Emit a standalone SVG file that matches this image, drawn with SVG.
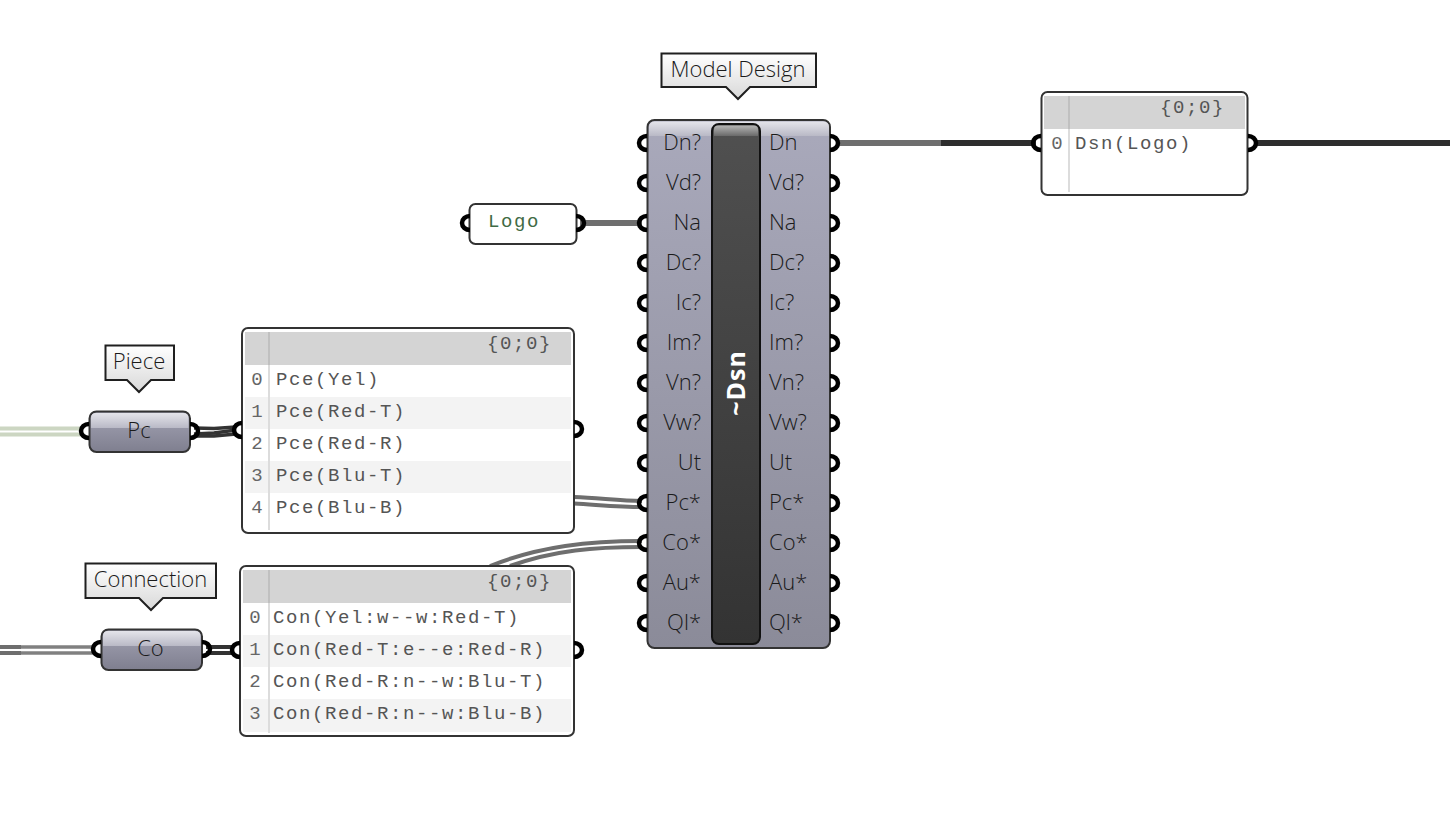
<svg xmlns="http://www.w3.org/2000/svg" xmlns:xlink="http://www.w3.org/1999/xlink" width="1450" height="831" viewBox="0 0 1450 831">
<style>
text{font-family:"Open Sans","Noto Sans",sans-serif;fill:#1a1a1a;font-weight:300}
.lb{font-size:22px}
.end{text-anchor:end}
.mid{text-anchor:middle}
.mono{font-family:"Liberation Mono","DejaVu Sans Mono",monospace;font-size:19px;letter-spacing:1.6px;fill:#555;font-weight:400}
.idx{font-family:"Liberation Mono","DejaVu Sans Mono",monospace;font-size:19px;fill:#666;text-anchor:middle;font-weight:400}
.box{stroke:#333;stroke-width:2}
.port{fill:none;stroke:#000;stroke-width:4.500}
.w{fill:none;stroke:#6e6e6e;stroke-width:4}
.w6{fill:none;stroke-width:6}
.tip{fill:url(#tipg);stroke:#1f1f1f;stroke-width:2}
.hdr{fill:#d4d4d4}
.alt{fill:#f3f3f3}
.vl{stroke:#dcdcdc;stroke-width:2}
.vh{stroke:#c0c0c0;stroke-width:2}
</style>
<defs>
<linearGradient id="tipg" x1="0" y1="0" x2="0" y2="1"><stop offset="0" stop-color="#fff"/><stop offset="1" stop-color="#d8d8d8"/></linearGradient>
<linearGradient id="body" x1="0" y1="0" x2="0" y2="1"><stop offset="0" stop-color="#a9a9bb"/><stop offset="1" stop-color="#8b8b99"/></linearGradient>
<linearGradient id="band" x1="0" y1="0" x2="0" y2="1"><stop offset="0" stop-color="#e4e4ea"/><stop offset="1" stop-color="#b9b9c6"/></linearGradient>
<linearGradient id="small" x1="0" y1="0" x2="0" y2="1"><stop offset="0" stop-color="#a3a3b4"/><stop offset="1" stop-color="#7f7f8f"/></linearGradient>
<linearGradient id="bar" x1="0" y1="0" x2="0" y2="1"><stop offset="0" stop-color="#505050"/><stop offset="1" stop-color="#333"/></linearGradient>
<linearGradient id="barh" x1="0" y1="0" x2="0" y2="1"><stop offset="0" stop-color="#b5b5b5"/><stop offset="1" stop-color="#6a6a6a"/></linearGradient>
<path id="pl" class="port" d="M1,-7 A8,7 0 0 0 1,7"/>
<path id="pr" class="port" d="M-1,-7 A8,7 0 0 1 -1,7"/>
</defs>
<rect width="1450" height="831" fill="#fff"/>

<g id="connectors">
<path class="w6" stroke="#6e6e6e" d="M836,143H941"/>
<path class="w6" stroke="#2e2e2e" d="M941,143H1036"/>
<path class="w6" stroke="#2e2e2e" d="M1254,143H1450"/>
<path class="w6" stroke="#6e6e6e" d="M580,223H642"/>
<path fill="none" stroke="#ccd6c2" stroke-width="4" d="M0,428.500H82"/>
<path fill="none" stroke="#ccd6c2" stroke-width="4" d="M0,434.500H82"/>
<path fill="none" stroke="#333" stroke-width="3.500" d="M194,428L214,428.500L236,427"/>
<path fill="none" stroke="#333" stroke-width="3.500" d="M194,434L214,433L236,430"/>
<path fill="none" stroke="#333" stroke-width="3.500" d="M194,436L214,436L236,434"/>
<path class="w" d="M0,647H21"/>
<path class="w" d="M0,653H21"/>
<path fill="none" stroke="#808080" stroke-width="3.500" d="M21,647H94"/>
<path fill="none" stroke="#808080" stroke-width="3.500" d="M21,653H94"/>
<path fill="none" stroke="#333" stroke-width="4" d="M206,647H234"/>
<path fill="none" stroke="#333" stroke-width="4" d="M206,653H234"/>
<path class="w" d="M574,497C600,498 620,501 642,501"/>
<path class="w" d="M574,503.500C600,505 620,507 642,507"/>
<path class="w" d="M490,566C540,546 590,541 642,541"/>
<path class="w" d="M510,566C555,550 595,547 642,547"/>
</g>

<g id="model-design-tip">
<path class="tip" d="M661.500,53.500H816V87H750L738,99L726,87H661.500Z"/>
<text class="mid lb" x="738" y="77">Model Design</text>
</g>
<g id="piece-tip">
<path class="tip" d="M105.500,345.500H174V380H151L139,392L127,380H105.500Z"/>
<text class="mid lb" x="139" y="369">Piece</text>
</g>
<g id="connection-tip">
<path class="tip" d="M85.500,563.500H216V598H163L151,610L139,598H85.500Z"/>
<text class="mid lb" x="150.500" y="587">Connection</text>
</g>

<g id="dsn">
<rect class="box" x="647.500" y="120" width="182.500" height="528" rx="7" fill="url(#body)"/>
<path d="M649,136V127Q649,121.500 655,121.500H823Q829,121.500 829,127V136Z" fill="url(#band)"/>
<rect x="712" y="124" width="48" height="520" rx="7" fill="url(#bar)" stroke="#111" stroke-width="2"/>
<path d="M714,136V129Q714,125.500 718,125.500H754Q758,125.500 758,129V136Z" fill="url(#barh)"/>
<text transform="translate(745,383) rotate(-90)" class="mid" font-size="25" letter-spacing="1" style="fill:#fff;font-weight:700">~Dsn</text>
<g class="lb end">
<text x="701" y="150">Dn?</text><text x="701" y="190">Vd?</text><text x="701" y="230">Na</text><text x="701" y="270">Dc?</text><text x="701" y="310">Ic?</text><text x="701" y="350">Im?</text><text x="701" y="390">Vn?</text><text x="701" y="430">Vw?</text><text x="701" y="470">Ut</text><text x="701" y="510">Pc*</text><text x="701" y="550">Co*</text><text x="701" y="590">Au*</text><text x="701" y="630">Ql*</text>
</g>
<g class="lb">
<text x="769" y="150">Dn</text><text x="769" y="190">Vd?</text><text x="769" y="230">Na</text><text x="769" y="270">Dc?</text><text x="769" y="310">Ic?</text><text x="769" y="350">Im?</text><text x="769" y="390">Vn?</text><text x="769" y="430">Vw?</text><text x="769" y="470">Ut</text><text x="769" y="510">Pc*</text><text x="769" y="550">Co*</text><text x="769" y="590">Au*</text><text x="769" y="630">Ql*</text>
</g>
<use href="#pl" x="646" y="143"/><use href="#pl" x="646" y="183"/><use href="#pl" x="646" y="223"/><use href="#pl" x="646" y="263"/><use href="#pl" x="646" y="303"/><use href="#pl" x="646" y="343"/><use href="#pl" x="646" y="383"/><use href="#pl" x="646" y="423"/><use href="#pl" x="646" y="463"/><use href="#pl" x="646" y="503"/><use href="#pl" x="646" y="543"/><use href="#pl" x="646" y="583"/><use href="#pl" x="646" y="623"/>
<use href="#pr" x="831" y="143"/><use href="#pr" x="831" y="183"/><use href="#pr" x="831" y="223"/><use href="#pr" x="831" y="263"/><use href="#pr" x="831" y="303"/><use href="#pr" x="831" y="343"/><use href="#pr" x="831" y="383"/><use href="#pr" x="831" y="423"/><use href="#pr" x="831" y="463"/><use href="#pr" x="831" y="503"/><use href="#pr" x="831" y="543"/><use href="#pr" x="831" y="583"/><use href="#pr" x="831" y="623"/>
</g>

<g id="logo">
<rect class="box" x="469.500" y="204" width="107" height="40" rx="6" fill="#fff"/>
<text class="mono" x="488" y="227" style="fill:#3f6b45">Logo</text>
<use href="#pl" x="469" y="223"/><use href="#pr" x="577" y="223"/>
</g>

<g id="pc">
<rect class="box" x="89.500" y="411.500" width="100.500" height="40.500" rx="7" fill="url(#small)"/>
<path d="M91,428V418Q91,413 96,413H183Q188.500,413 188.500,418V428Z" fill="url(#band)"/>
<text class="mid lb" x="139" y="438">Pc</text>
<use href="#pl" x="88" y="431"/><use href="#pr" x="191" y="431"/>
</g>

<g id="co">
<rect class="box" x="101.500" y="629.500" width="100.500" height="40.500" rx="7" fill="url(#small)"/>
<path d="M103,646V636Q103,631 108,631H195Q200.500,631 200.500,636V646Z" fill="url(#band)"/>
<text class="mid lb" x="150.500" y="656">Co</text>
<use href="#pl" x="100" y="649"/><use href="#pr" x="203" y="649"/>
</g>

<g id="panel-pce">
<rect class="box" x="242" y="328" width="332" height="205" rx="6" fill="#fff"/>
<rect class="hdr" x="245" y="332" width="326" height="33"/>
<rect class="alt" x="245" y="397" width="326" height="32"/>
<rect class="alt" x="245" y="461" width="326" height="32"/>
<path class="vh" d="M269,332V365"/><path class="vl" d="M269,365V530"/>
<text class="mono" x="487" y="349">{0;0}</text>
<text class="idx" x="257" y="385">0</text><text class="mono" x="276" y="385">Pce(Yel)</text>
<text class="idx" x="257" y="417">1</text><text class="mono" x="276" y="417">Pce(Red-T)</text>
<text class="idx" x="257" y="449">2</text><text class="mono" x="276" y="449">Pce(Red-R)</text>
<text class="idx" x="257" y="481">3</text><text class="mono" x="276" y="481">Pce(Blu-T)</text>
<text class="idx" x="257" y="513">4</text><text class="mono" x="276" y="513">Pce(Blu-B)</text>
<use href="#pl" x="241" y="430"/><use href="#pr" x="575" y="429"/>
</g>

<g id="panel-con">
<rect class="box" x="240" y="566" width="334" height="170" rx="6" fill="#fff"/>
<rect class="hdr" x="243" y="570" width="328" height="33"/>
<rect class="alt" x="243" y="635" width="328" height="32"/>
<rect class="alt" x="243" y="699" width="328" height="33"/>
<path class="vh" d="M269,570V603"/><path class="vl" d="M269,603V733"/>
<text class="mono" x="487" y="587">{0;0}</text>
<text class="idx" x="255" y="623">0</text><text class="mono" x="273" y="623">Con(Yel:w--w:Red-T)</text>
<text class="idx" x="255" y="655">1</text><text class="mono" x="273" y="655">Con(Red-T:e--e:Red-R)</text>
<text class="idx" x="255" y="687">2</text><text class="mono" x="273" y="687">Con(Red-R:n--w:Blu-T)</text>
<text class="idx" x="255" y="719">3</text><text class="mono" x="273" y="719">Con(Red-R:n--w:Blu-B)</text>
<use href="#pl" x="239" y="650"/><use href="#pr" x="575" y="650"/>
</g>

<g id="panel-dsn">
<rect class="box" x="1041.500" y="92" width="206" height="103" rx="6" fill="#fff"/>
<rect class="hdr" x="1044" y="96" width="201" height="33"/>
<path class="vh" d="M1069,96V129"/><path class="vl" d="M1069,129V192"/>
<text class="mono" x="1160" y="113">{0;0}</text>
<text class="idx" x="1057" y="149">0</text><text class="mono" x="1075" y="149">Dsn(Logo)</text>
<use href="#pl" x="1040" y="143"/><use href="#pr" x="1249" y="143"/>
</g>
</svg>
